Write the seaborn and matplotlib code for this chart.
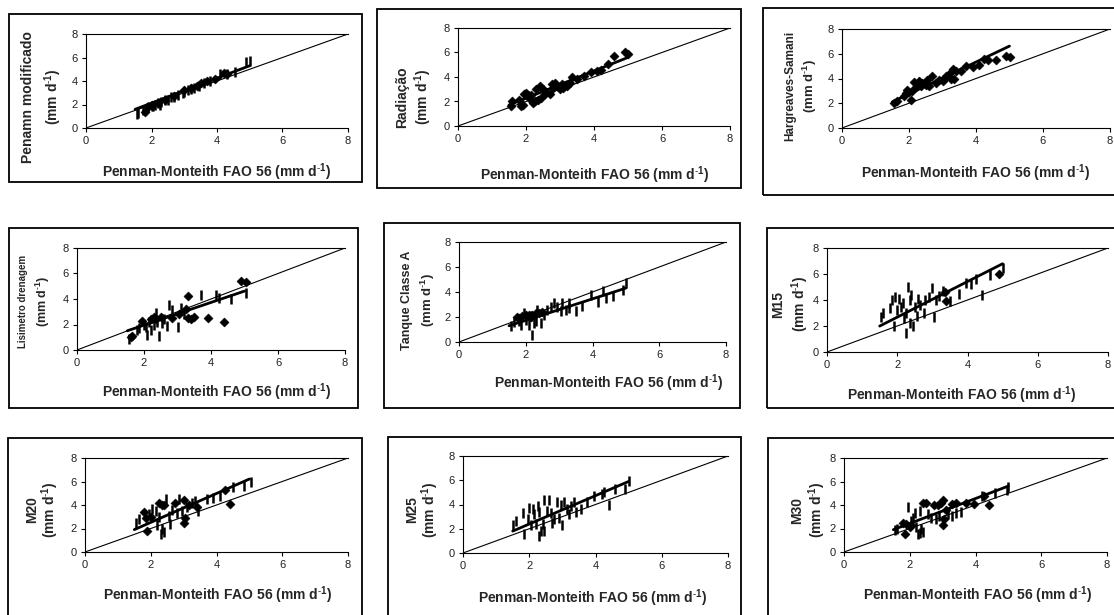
import numpy as np
import matplotlib
matplotlib.use("Agg")
import matplotlib.pyplot as plt
import seaborn as sns
from matplotlib.patches import Rectangle

sns.set_style("white")
plt.rcParams['font.family'] = ['Liberation Sans', 'DejaVu Sans']
plt.rcParams['mathtext.fontset'] = 'custom'
plt.rcParams['mathtext.rm'] = 'Liberation Sans'
plt.rcParams['mathtext.bf'] = 'Liberation Sans:bold'

# ---- data (x = Penman-Monteith FAO 56, y = method) ----
titles = ["Penamn modificado", "Radiação", "Hargreaves-Samani",
          "Lisimetro drenagem", "Tanque Classe A", "M15",
          "M20", "M25", "M30"]
x_label = r"Penman-Monteith FAO 56 (mm d$^{\mathbf{\text{-}1}}$)"
unit_label = r"(mm d$^{\mathbf{\text{-}1}}$)"
tick_values = [0, 2, 4, 6, 8]

# diamonds and "|" symbols per panel, as (x, y)
penman_mod_dia = [(1.8, 1.4), (1.9, 1.8), (2.0, 2.0), (2.2, 2.1), (2.4, 2.4), (2.7, 2.7),
                  (3.0, 3.2), (3.2, 3.4), (3.4, 3.6), (3.5, 3.8), (3.7, 4.0), (3.95, 4.2),
                  (4.2, 4.7), (4.3, 4.6)]
penman_mod_bar = [(1.55, 1.2), (1.6, 1.3), (1.75, 1.5), (1.85, 1.7), (1.9, 1.8), (2.0, 1.9),
                  (2.05, 1.9), (2.1, 2.0), (2.2, 2.1), (2.25, 2.0), (2.3, 2.2), (2.4, 2.4),
                  (2.5, 2.4), (2.6, 2.6), (2.7, 2.6), (2.8, 2.8), (2.95, 3.0), (3.0, 3.1),
                  (3.1, 3.2), (3.2, 3.3), (3.3, 3.4), (3.45, 3.6), (3.6, 3.8), (3.8, 4.0),
                  (4.1, 4.6), (4.3, 4.6), (4.55, 4.8), (4.9, 5.6), (5.0, 5.7)]

radiacao_dia = [(1.55, 1.6), (1.6, 2.0), (1.8, 2.1), (1.85, 1.6), (1.9, 1.7), (1.95, 2.6),
                (2.0, 2.7), (2.05, 2.5), (2.1, 2.3), (2.15, 2.5), (2.2, 1.9), (2.25, 2.0),
                (2.3, 3.0), (2.35, 2.1), (2.4, 3.3), (2.45, 2.3), (2.5, 3.0), (2.55, 2.6),
                (2.6, 2.8), (2.7, 2.6), (2.75, 3.4), (2.8, 3.1), (2.85, 3.5), (2.9, 3.3),
                (3.0, 3.0), (3.05, 3.4), (3.1, 3.1), (3.2, 3.3), (3.3, 3.5), (3.35, 4.0),
                (3.5, 3.8), (3.7, 4.1), (3.9, 4.4), (4.1, 4.5), (4.2, 4.6), (4.4, 5.1),
                (4.6, 5.7), (4.9, 6.0), (5.0, 5.9)]
radiacao_bar = []

hargreaves_dia = [(1.55, 2.0), (1.65, 2.2), (1.85, 2.6), (1.9, 2.8), (1.95, 3.1), (2.0, 2.9),
                  (2.05, 2.3), (2.1, 3.0), (2.15, 3.7), (2.2, 3.3), (2.25, 3.5), (2.3, 3.8),
                  (2.35, 3.4), (2.4, 3.6), (2.5, 3.5), (2.55, 3.9), (2.6, 3.4), (2.7, 4.2),
                  (2.8, 3.6), (2.9, 3.9), (3.0, 3.8), (3.05, 4.0), (3.1, 4.2), (3.2, 4.4),
                  (3.25, 4.0), (3.3, 4.8), (3.35, 4.0), (3.4, 4.6), (3.55, 4.6), (3.7, 5.0),
                  (3.9, 4.9), (4.1, 5.1), (4.25, 5.6), (4.35, 5.5), (4.6, 5.5), (4.9, 5.8),
                  (5.0, 5.7)]
hargreaves_bar = []

lisimetro_dia = [(1.6, 1.0), (1.65, 1.1), (1.95, 2.3), (2.2, 2.4), (2.3, 2.6), (2.35, 2.4),
                 (2.5, 2.6), (2.85, 2.5), (3.05, 2.8), (3.25, 3.2), (3.3, 4.2), (3.3, 2.5),
                 (3.4, 2.4), (3.5, 2.6), (3.9, 2.5), (4.4, 2.2), (4.9, 5.4), (5.05, 5.3)]
lisimetro_bar = [(1.55, 0.9), (1.8, 1.6), (1.85, 1.7), (2.0, 2.0), (2.05, 1.8), (2.1, 1.2),
                 (2.15, 2.2), (2.2, 1.6), (2.3, 2.0), (2.35, 2.9), (2.4, 2.2), (2.45, 1.1),
                 (2.55, 2.1), (2.6, 2.4), (2.7, 1.9), (2.75, 3.5), (2.85, 3.1), (3.0, 1.8),
                 (3.1, 3.3), (3.2, 2.8), (3.7, 4.3), (4.15, 4.3), (4.25, 4.1), (4.6, 4.0),
                 (5.05, 4.5)]

tanque_dia = [(1.75, 2.0), (1.8, 1.9), (1.9, 2.1), (2.0, 2.2), (2.1, 2.2), (2.15, 2.0),
              (2.2, 2.2), (2.3, 2.3), (2.4, 2.3), (2.5, 2.4)]
tanque_bar = [(1.55, 1.3), (1.65, 1.6), (1.8, 1.7), (1.85, 1.4), (1.95, 2.3), (2.0, 1.8),
              (2.1, 1.4), (2.15, 2.1), (2.2, 0.6), (2.25, 1.5), (2.3, 1.7), (2.35, 2.6),
              (2.45, 1.5), (2.55, 2.2), (2.65, 2.6), (2.75, 2.8), (2.85, 3.1), (2.95, 2.8),
              (3.05, 2.5), (3.1, 3.1), (3.2, 2.6), (3.3, 2.7), (3.3, 3.1), (3.5, 2.5),
              (3.7, 2.9), (3.95, 3.8), (4.15, 3.2), (4.3, 4.1), (4.4, 3.5), (4.6, 3.7),
              (4.9, 4.2), (5.0, 4.7)]

m15_dia = [(3.35, 4.6), (3.4, 3.9), (4.9, 6.0)]
m15_bar = [(1.55, 2.7), (1.6, 3.0), (1.8, 3.4), (1.85, 4.0), (1.9, 2.0), (1.95, 4.2),
           (2.0, 3.2), (2.05, 4.1), (2.1, 3.5), (2.15, 3.8), (2.2, 2.6), (2.25, 3.0),
           (2.25, 1.5), (2.3, 5.0), (2.35, 2.2), (2.35, 4.0), (2.4, 4.4), (2.45, 2.0),
           (2.5, 3.5), (2.55, 2.8), (2.6, 4.1), (2.65, 3.6), (2.75, 3.0), (2.8, 4.0),
           (2.9, 4.2), (3.0, 4.9), (3.05, 2.7), (3.1, 4.0), (3.2, 4.3), (3.3, 4.7),
           (3.5, 3.9), (3.75, 4.5), (3.95, 5.3), (4.1, 5.2), (4.25, 5.6), (4.4, 4.4),
           (4.65, 5.9), (5.0, 6.5)]

m20_dia = [(1.8, 3.4), (1.85, 2.9), (1.9, 1.8), (2.0, 3.0), (2.25, 4.2), (2.35, 4.0),
           (2.4, 4.0), (2.75, 4.2), (3.0, 4.4), (3.0, 2.5), (3.05, 2.9), (3.15, 4.0),
           (3.4, 3.8), (4.25, 5.3), (4.4, 4.1)]
m20_bar = [(1.55, 2.5), (1.65, 2.8), (1.95, 3.2), (2.05, 3.7), (2.15, 3.5), (2.2, 2.3),
           (2.25, 3.0), (2.3, 1.5), (2.35, 2.0), (2.4, 1.7), (2.45, 4.5), (2.55, 3.1),
           (2.6, 2.4), (2.65, 3.6), (2.8, 3.3), (2.85, 4.5), (2.95, 3.5), (3.1, 3.8),
           (3.25, 4.2), (3.35, 4.3), (3.45, 3.5), (3.7, 4.5), (3.9, 4.6), (4.1, 4.8),
           (4.5, 5.5), (4.85, 5.6), (5.05, 6.0)]

m25_dia = []
m25_bar = [(1.5, 2.3), (1.6, 2.6), (1.8, 3.3), (1.85, 1.6), (1.95, 2.8), (2.0, 3.7),
           (2.05, 2.3), (2.1, 3.6), (2.15, 3.2), (2.2, 2.4), (2.25, 3.9), (2.3, 1.4),
           (2.3, 3.4), (2.35, 1.8), (2.4, 2.4), (2.45, 4.4), (2.45, 1.8), (2.55, 3.5),
           (2.6, 4.4), (2.65, 3.3), (2.7, 2.5), (2.75, 2.8), (2.85, 4.2), (2.9, 2.9),
           (2.95, 4.0), (3.0, 2.3), (3.05, 4.2), (3.15, 3.6), (3.2, 3.2), (3.25, 3.9),
           (3.35, 4.2), (3.4, 3.4), (3.55, 3.6), (3.75, 4.2), (3.95, 4.7), (4.2, 4.9),
           (4.25, 5.0), (4.4, 4.0), (4.6, 5.3), (4.9, 5.3), (5.0, 5.9)]

m30_dia = [(1.8, 2.5), (1.85, 1.5), (1.9, 2.4), (2.0, 2.1), (2.05, 2.3), (2.4, 4.2),
           (2.5, 4.2), (2.75, 4.0), (2.85, 4.0), (2.95, 4.2), (3.0, 4.4), (3.0, 2.3),
           (3.05, 2.8), (3.1, 3.6), (3.3, 4.1), (3.4, 4.2), (3.7, 4.2), (3.95, 4.1),
           (4.25, 4.8), (4.4, 4.0)]
m30_bar = [(1.55, 1.9), (1.6, 2.0), (1.95, 3.8), (2.05, 2.6), (2.1, 2.9), (2.15, 3.3),
           (2.2, 2.1), (2.25, 1.5), (2.3, 3.5), (2.3, 1.6), (2.35, 2.0), (2.4, 1.7),
           (2.55, 3.2), (2.65, 2.9), (2.8, 2.8), (2.9, 3.1), (3.15, 3.2), (3.3, 3.1),
           (3.4, 3.3), (3.55, 3.4), (4.2, 4.8), (4.6, 5.0), (4.95, 5.3), (5.0, 5.5)]

# fitted regression lines (slope, intercept), drawn over the observed x range
fit_slope = [1.06, 1.11, 1.29, 0.89, 0.86, 1.37, 1.23, 1.17, 1.06]
fit_intercept = [0.0, 0.05, 0.17, 0.17, 0.01, -0.06, 0.06, 0.05, 0.31]
fit_x_range = [1.5, 5.0]

diamonds = [penman_mod_dia, radiacao_dia, hargreaves_dia, lisimetro_dia, tanque_dia,
            m15_dia, m20_dia, m25_dia, m30_dia]
bars = [penman_mod_bar, radiacao_bar, hargreaves_bar, lisimetro_bar, tanque_bar,
        m15_bar, m20_bar, m25_bar, m30_bar]

# ---- layout in pixels of the 1114x615 page ----
W, H = 1114, 615
# axes: x of 0, x of 8, y of 8, y of 0
axes_px = [(86, 348, 34, 128), (458, 730, 28, 126), (842, 1110, 29, 128),
           (77, 345, 248, 350), (459, 726, 242, 342), (827, 1108, 248, 352),
           (85, 348, 458, 552), (463, 728, 456, 553), (844, 1107, 458, 552)]
# outer boxes: left, top, right, bottom
box_px = [(9, 14, 362, 182), (377, 9, 741, 188), (763, 8, 1120, 195),
          (9, 228, 358, 408), (384, 223, 740, 408), (767, 228, 1120, 408),
          (8, 438, 362, 620), (388, 437, 741, 620), (768, 438, 1120, 620)]
# y label: x of line 1, x of line 2, centre y, size line 1, size line 2
ylab_px = [(28, 53, 97, 10, 10), (402, 423, 97, 10, 10), (790, 810, 86, 8.5, 9.5),
           (23, 43, 301, 7, 9), (407, 428, 300, 9, 9.5), (778, 800, 304, 10, 10),
           (32, 50, 510, 10, 10), (412, 430, 510, 10, 10), (797, 817, 510, 10, 10)]
# x label centre
xlab_px = [(217, 172), (595, 175), (976, 173), (217, 392), (609, 383), (962, 395),
           (218, 595), (593, 598), (978, 595)]

fig = plt.figure(figsize=(W / 100, H / 100), dpi=100)

for i in range(9):
    x0, x8, y8, y0 = axes_px[i]
    ax = fig.add_axes([x0 / W, 1 - y0 / H, (x8 - x0) / W, (y0 - y8) / H])

    # 1:1 line
    diag = np.array([tick_values[0], tick_values[-1]])
    sns.lineplot(x=diag, y=diag, color="black", linewidth=0.8, ax=ax)
    # regression line
    fx = np.array(fit_x_range)
    sns.lineplot(x=fx, y=fit_slope[i] * fx + fit_intercept[i], color="black",
                 linewidth=2.0, ax=ax)

    if bars[i]:
        bx, by = zip(*bars[i])
        sns.scatterplot(x=list(bx), y=list(by), marker="|", s=45, linewidth=1.8,
                        color="black", ax=ax, zorder=3)
    if diamonds[i]:
        dx, dy = zip(*diamonds[i])
        sns.scatterplot(x=list(dx), y=list(dy), marker="D", s=22, color="black",
                        edgecolor="black", linewidth=0.3, ax=ax, zorder=4)

    ax.set_xlim(tick_values[0], tick_values[-1])
    ax.set_ylim(tick_values[0], tick_values[-1])
    ax.set_xticks(tick_values)
    ax.set_yticks(tick_values)
    ax.tick_params(axis="both", direction="out", length=3, width=0.8,
                   labelsize=8, colors="black", labelcolor="#222222", pad=3)
    ax.tick_params(bottom=True, left=True)
    ax.spines["right"].set_visible(False)
    for s in ["left", "bottom", "top"]:
        ax.spines[s].set_color("black")
        ax.spines[s].set_linewidth(0.8)
    ax.set_xlabel("")
    ax.set_ylabel("")

    # labels
    cx, cy = xlab_px[i]
    fig.text(cx / W, 1 - cy / H, x_label, ha="center", va="center",
             fontsize=10, fontweight="bold")
    lx1, lx2, ly, s1, s2 = ylab_px[i]
    fig.text(lx1 / W, 1 - ly / H, titles[i], rotation=90, ha="center", va="center",
             fontsize=s1, fontweight="bold")
    fig.text(lx2 / W, 1 - ly / H, unit_label, rotation=90, ha="center", va="center",
             fontsize=s2, fontweight="bold")

    # panel frame
    l, t, r, b = box_px[i]
    fig.add_artist(Rectangle((l / W, 1 - b / H), (r - l) / W, (b - t) / H,
                             transform=fig.transFigure, fill=False,
                             edgecolor="black", linewidth=1.3))

fig.savefig("out.png", dpi=100)
